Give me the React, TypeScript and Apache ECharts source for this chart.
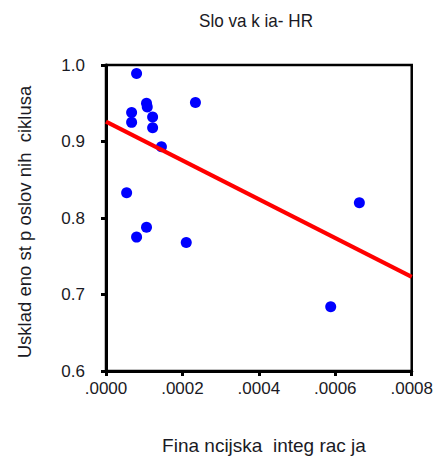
import React, { useEffect, useRef } from "react";
import * as echarts from "echarts";

const titleText = "Slo va k ia- HR";
const xAxisName = "Fina ncijska  integ rac ja";
const yAxisName = "Usklad eno st p oslov nih  ciklusa";

const finIntegration = [
  0.00008, 0.000067, 0.000067, 0.000106, 0.000108, 0.000122, 0.000122, 0.000145,
  0.000234, 0.000054, 0.00008, 0.000106, 0.00021, 0.000588, 0.000663,
];
const cycleSync = [
  0.989, 0.938, 0.925, 0.95, 0.945, 0.932, 0.918, 0.893,
  0.951, 0.833, 0.775, 0.788, 0.768, 0.684, 0.82,
];
const fitX = [0, 0.0008];
const fitY = [0.926, 0.723];

const FONT = "Liberation Sans, Arial, sans-serif";
const TEXT_COLOR = "#1a1a24";

export default function App() {
  const ref = useRef<HTMLDivElement>(null);
  useEffect(() => {
    if (!ref.current) return;
    const chart = echarts.init(ref.current, undefined, { renderer: "svg" });
    const points = finIntegration.map((x, i) => [x, cycleSync[i]]);
    const fit = fitX.map((x, i) => [x, fitY[i]]);
    chart.setOption({
      animation: false,
      backgroundColor: "#ffffff",
      grid: {
        left: 106,
        top: 65,
        right: 21,
        bottom: 89,
        show: true,
        borderColor: "#000",
        borderWidth: 2.5,
        backgroundColor: "transparent",
      },
      graphic: [
        {
          type: "text",
          x: 256,
          y: 21,
          scaleX: 0.95,
          style: {
            text: titleText,
            font: `18px ${FONT}`,
            fill: TEXT_COLOR,
            align: "center",
            verticalAlign: "middle",
          },
        },
        {
          type: "text",
          x: 264,
          y: 445,
          style: {
            text: xAxisName,
            font: `19px ${FONT}`,
            fill: TEXT_COLOR,
            align: "center",
            verticalAlign: "middle",
          },
        },
        {
          type: "text",
          x: 24,
          y: 222,
          rotation: Math.PI / 2,
          style: {
            text: yAxisName,
            font: `18.5px ${FONT}`,
            fill: TEXT_COLOR,
            align: "center",
            verticalAlign: "middle",
          },
        },
      ],
      xAxis: {
        type: "value",
        min: 0,
        max: 0.0008,
        interval: 0.0002,
        splitLine: { show: false },
        axisLine: { show: true, lineStyle: { color: "#000", width: 3 } },
        axisTick: { show: true, inside: false, length: 5, lineStyle: { color: "#000", width: 3 } },
        axisLabel: {
          margin: 9,
          fontSize: 17,
          fontFamily: FONT,
          color: TEXT_COLOR,
          formatter: (v: number) => v.toFixed(4).replace(/^0\./, "."),
        },
      },
      yAxis: {
        type: "value",
        min: 0.6,
        max: 1.0,
        interval: 0.1,
        splitLine: { show: false },
        axisLine: { show: true, lineStyle: { color: "#000", width: 3 } },
        axisTick: { show: true, inside: false, length: 5, lineStyle: { color: "#000", width: 3 } },
        axisLabel: {
          margin: 21,
          fontSize: 17,
          fontFamily: FONT,
          color: TEXT_COLOR,
          formatter: (v: number) => v.toFixed(1),
        },
      },
      series: [
        {
          type: "scatter",
          data: points,
          symbol: "circle",
          symbolSize: 11,
          itemStyle: { color: "#0000ff", opacity: 1 },
          z: 2,
        },
        {
          type: "line",
          data: fit,
          symbol: "none",
          lineStyle: { color: "#ff0000", width: 4 },
          z: 3,
        },
      ],
    });
    return () => chart.dispose();
  }, []);
  return <div ref={ref} style={{ width: 436, height: 460, position: "absolute", left: 0, top: 0 }} />;
}
